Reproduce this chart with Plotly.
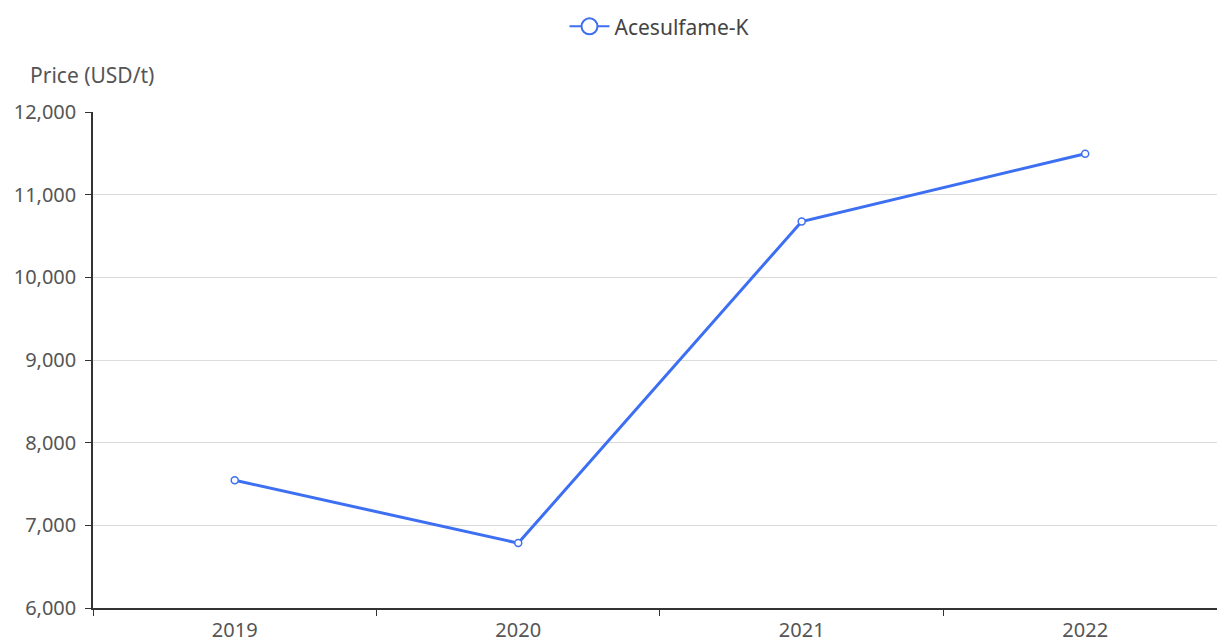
import plotly.graph_objects as go

# data
years = ["2019", "2020", "2021", "2022"]
price_acesulfame_k = [7545, 6785, 10675, 11495]
series_name = "Acesulfame-K"
y_title = "Price (USD/t)"

line_color = "#3d6ff2"
font_family = "Noto Sans, Open Sans, sans-serif"

fig = go.Figure()
fig.add_trace(go.Scatter(
    x=years, y=price_acesulfame_k,
    mode="lines+markers",
    name=series_name,
    showlegend=False,
    line=dict(color=line_color, width=3),
    marker=dict(size=7, color="white", line=dict(color=line_color, width=1.5)),
))
# legend entry only (thinner line, bigger circle like the reference)
fig.add_trace(go.Scatter(
    x=[None], y=[None],
    mode="lines+markers",
    name=series_name,
    line=dict(color=line_color, width=2),
    marker=dict(size=16, color="white", line=dict(color=line_color, width=2)),
))

fig.update_layout(
    width=1217, height=643,
    margin=dict(l=93, r=0, t=112, b=32),
    paper_bgcolor="white", plot_bgcolor="white",
    font=dict(family=font_family, size=20, color="#555"),
    showlegend=True,
    legend=dict(orientation="h", x=0.504, xanchor="center", y=1.172, yanchor="middle",
                font=dict(size=21, color="#444"), itemwidth=40),
    xaxis=dict(type="category", range=[-0.5, 3.465], tickson="boundaries",
               ticks="outside", ticklen=6, tickcolor="#333", ticklabelstandoff=3,
               showline=True, linecolor="#333", linewidth=1.5,
               showgrid=False, tickfont=dict(size=20, color="#555")),
    yaxis=dict(range=[6000, 12000], dtick=1000, tickformat=",",
               ticks="outside", ticklen=6, tickcolor="#333", ticklabelstandoff=5,
               showline=True, linecolor="#333", linewidth=1.5,
               showgrid=True, gridcolor="#dcdcdc", gridwidth=1, zeroline=False,
               tickfont=dict(size=20, color="#555")),
    annotations=[dict(text=y_title, xref="paper", yref="paper", x=-0.058, y=1.074,
                      xanchor="left", yanchor="middle", showarrow=False,
                      font=dict(size=21, color="#555"))],
)

# drop the default page margin so the figure fills the window
fig.write_html("out.html", config={"displayModeBar": False},
               post_script="document.body.style.margin='0';")
